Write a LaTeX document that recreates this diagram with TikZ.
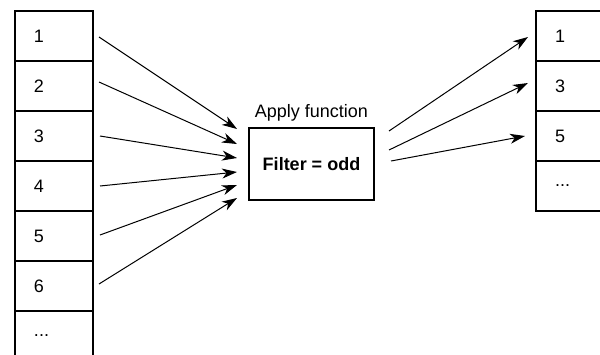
\documentclass[tikz,border=0pt]{standalone}
\usepackage{fontspec}
\setmainfont{Liberation Sans}
\usetikzlibrary{arrows.meta,calc}
\begin{document}
\begin{tikzpicture}[x=1pt,y=-1pt,
  cell/.style={draw, line width=2pt, minimum height=50pt, text width=40pt,
    inner xsep=19pt, inner ysep=0pt, align=left, anchor=center,
    font=\fontsize{18}{21}\selectfont},
  fbox/.style={draw, line width=2pt, minimum width=125pt, minimum height=72pt,
    inner sep=0pt, font=\fontsize{18}{21}\selectfont\bfseries},
  lbl/.style={inner sep=0pt, font=\fontsize{18}{21}\selectfont},
  arr/.style={line width=1pt, -{Stealth[length=15pt,width=10pt,inset=4.5pt]}}]
\useasboundingbox (0,0) rectangle (600,354);
% left column
\node[cell] (c1) at (54,36) {1};
\node[cell] (c2) at (54,86) {2};
\node[cell] (c3) at (54,136) {3};
\node[cell] (c4) at (54,186) {4};
\node[cell] (c5) at (54,236) {5};
\node[cell] (c6) at (54,286) {6};
\node[cell] (c7) at (54,336) {...};
% function box
\node[fbox] (f) at (311.5,164) {Filter = odd};
\node[lbl, anchor=base] (lab) at (311.5,117) {Apply function};
% right column
\node[cell] (r1) at (575,36) {1};
\node[cell] (r2) at (575,86) {3};
\node[cell] (r3) at (575,136) {5};
\node[cell] (r4) at (575,186) {...};
% input arrows
\draw[arr] ($(c1.east)+(5,1)$) -- ($(f.west)+(-11,-35)$);
\draw[arr] ($(c2.east)+(5,-4)$) -- ($(f.west)+(-11,-20)$);
\draw[arr] ($(c3.east)+(6,0)$) -- ($(f.west)+(-11,-6)$);
\draw[arr] ($(c4.east)+(6,0)$) -- ($(f.west)+(-11,8)$);
\draw[arr] ($(c5.east)+(6,-1)$) -- ($(f.west)+(-11,21)$);
\draw[arr] ($(c6.east)+(5,-2)$) -- ($(f.west)+(-11,34)$);
% output arrows
\draw[arr] ($(f.east)+(14,-33)$) -- ($(r1.west)+(-7,1)$);
\draw[arr] ($(f.east)+(14,-14)$) -- ($(r2.west)+(-7,-3)$);
\draw[arr] ($(f.east)+(16,-3)$) -- ($(r3.west)+(-10,0)$);
\end{tikzpicture}
\end{document}
